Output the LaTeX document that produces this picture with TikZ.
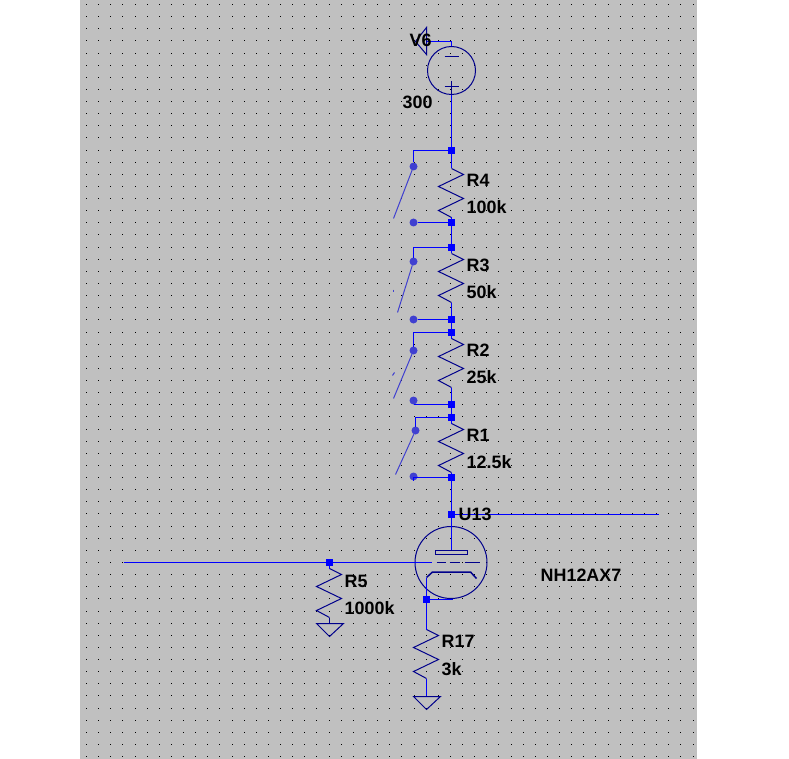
\documentclass[tikz,border=0pt]{standalone}
\usepackage{fontspec}
\setmainfont{Liberation Sans}
\definecolor{sheetgray}{RGB}{192,192,192}
\definecolor{wireblue}{RGB}{0,0,255}
\definecolor{symbolblue}{RGB}{0,0,139}
\definecolor{switchblue}{RGB}{64,64,208}
\tikzset{
  wire/.style={draw=wireblue,line width=1.6pt},
  symbol/.style={draw=symbolblue,line width=1pt},
  junction/.style={fill=wireblue,minimum size=7pt,inner sep=0pt,outer sep=0pt},
  contact/.style={circle,fill=switchblue,minimum size=8pt,inner sep=0pt,outer sep=0pt},
  lever/.style={draw=switchblue,line width=1pt},
  tag/.style={font=\bfseries\fontsize{17.9}{18}\selectfont,text=black,anchor=west,inner sep=0pt}
}
% one resistor: top pin at (#1,#2), #3 = name of the bottom coordinate
\newcommand{\zigzag}[3]{%
  \draw[symbol] (#1,#2) -- ++(12,-6) -- ++(-25,-12) -- ++(25,-12) -- ++(-25,-12) -- ++(13,-7) coordinate (#3);
}
\begin{document}
\begin{tikzpicture}[x=1pt,y=1pt]
  \useasboundingbox (0,0) rectangle (789,-759);
  \fill[sheetgray] (80,0) rectangle (697,-759);
  \foreach \i in {0,...,50}
    \foreach \j in {0,...,62}
      \fill[black] ({round(86+\i*12.13)},{-round(4+\j*12.13)}) rectangle ++(1.2,-1.2);

  \begin{scope}[shift={(0.5,-0.5)}]
  % source
  \node[circle,symbol,minimum size=48pt,inner sep=0pt] (v6) at (451,-70) {};
  \coordinate (flag) at (426,-41);
  \draw[wire] (v6.north) -- (451,-41) -- (flag);
  \draw[symbol] (426,-27) -- (426,-54) -- (415,-41) -- cycle;
  \draw[symbol] (444,-56) -- (458,-56);
  \draw[symbol] (444,-86) -- (458,-86);
  \draw[symbol] (451,-81) -- (451,-94);
  \node[tag] (v6name) at (409,-40) {V6};
  \node[tag] (v6value) at (402,-102) {300};

  % resistor chain
  \node[junction] (r4top) at (451,-150) {};
  \node[junction] (r4bot) at (451,-222) {};
  \node[junction] (r3top) at (451,-247) {};
  \node[junction] (r3bot) at (451,-319) {};
  \node[junction] (r2top) at (451,-332) {};
  \node[junction] (r2bot) at (451,-404) {};
  \node[junction] (r1top) at (451,-417) {};
  \node[junction] (r1bot) at (451,-477) {};
  \node[junction] (plate) at (451,-514) {};
  \draw[wire] (v6.south) -- (r4top);

  \coordinate (r4a) at (451,-168);
  \zigzag{451}{-168}{r4b}
  \draw[wire] (r4top) -- (r4a) (r4b) -- (r4bot) -- (r3top);
  \coordinate (r3a) at (451,-253);
  \zigzag{451}{-253}{r3b}
  \draw[wire] (r3top) -- (r3a) (r3b) -- (r3bot) -- (r2top);
  \coordinate (r2a) at (451,-338);
  \zigzag{451}{-338}{r2b}
  \draw[wire] (r2top) -- (r2a) (r2b) -- (r2bot) -- (r1top);
  \coordinate (r1a) at (451,-423);
  \zigzag{451}{-423}{r1b}
  \draw[wire] (r1top) -- (r1a) (r1b) -- (r1bot) -- (plate);

  \node[tag] (r4name) at (466,-180) {R4};
  \node[tag] (r4value) at (466,-207) {100k};
  \node[tag] (r3name) at (466,-265) {R3};
  \node[tag] (r3value) at (466,-292) {50k};
  \node[tag] (r2name) at (466,-350) {R2};
  \node[tag] (r2value) at (466,-377) {25k};
  \node[tag] (r1name) at (466,-435) {R1};
  \node[tag] (r1value) at (466,-462) {12.5k};

  % switches
  \node[contact] (s4a) at (413,-166) {};
  \node[contact] (s4b) at (413,-222) {};
  \coordinate (s4end) at (393,-218);
  \node[contact] (s3a) at (413,-261) {};
  \node[contact] (s3b) at (413,-319) {};
  \coordinate (s3end) at (397,-312);
  \node[contact] (s2a) at (413,-350) {};
  \node[contact] (s2b) at (413,-400) {};
  \coordinate (s2end) at (393,-398);
  \node[contact] (s1a) at (415,-430) {};
  \node[contact] (s1b) at (413,-476) {};
  \coordinate (s1end) at (395,-474);
  \foreach \s/\t in {4/r4,3/r3,2/r2,1/r1} {
    \draw[wire] (\t top) -| (s\s a);
    \draw[lever] (s\s a) -- (s\s end);
  }
  \draw[wire] (s4b) -- (r4bot);
  \draw[wire] (s3b) -- (r3bot);
  \draw[wire] (s2b) |- (r2bot);
  \draw[wire] (s1b) |- (r1bot);
  \draw[lever] (393,-289) -- (393,-291);
  \draw[lever] (392,-375) -- (394,-372);

  % tube
  \node[circle,symbol,minimum size=72pt,inner sep=0pt] (u13) at (450.5,-562) {};
  \node[draw=symbolblue,line width=1pt,minimum width=32pt,minimum height=4pt,inner sep=0pt] (anode) at (451,-552) {};
  \coordinate (gridin) at (431,-562);
  \coordinate (out) at (658,-514);
  \coordinate (in) at (123,-562);
  \node[junction] (gridnode) at (329,-562) {};
  \node[junction] (cathode) at (426,-599) {};
  \draw[wire] (plate) -- (out);
  \draw[wire] (plate) -- (anode.north);
  \draw[wire] (in) -- (gridnode) -- (gridin);
  \draw[symbol,line width=1.3pt] (436,-562) -- (445,-562) (449,-562) -- (459,-562) (464,-562) -- (479,-562);
  \draw[wire] (cathode) -- (426,-577);
  \draw[symbol,line width=1.5pt] (426,-577) -- (432,-571.5) -- (470,-571.5) -- (476,-578);
  \draw[wire] (cathode) -- (452,-599);
  \node[tag] (u13name) at (458,-514) {U13};
  \node[tag] (u13value) at (540,-575) {NH12AX7};

  % grid leak
  \coordinate (r5a) at (329,-568);
  \zigzag{329}{-568}{r5b}
  \draw[wire] (gridnode) -- (r5a);
  \draw[symbol] (r5b) -- (329,-623);
  \draw[symbol] (316,-623) -- (343,-623) -- (329,-636) -- cycle;
  \node[tag] (r5name) at (344,-581) {R5};
  \node[tag] (r5value) at (344,-608) {1000k};

  % cathode resistor
  \coordinate (r17a) at (426,-629);
  \zigzag{426}{-629}{r17b}
  \draw[wire] (cathode) -- (r17a) (r17b) -- (426,-696);
  \draw[symbol] (413,-696) -- (440,-696) -- (426,-709) -- cycle;
  \node[tag] (r17name) at (441,-641) {R17};
  \node[tag] (r17value) at (441,-669) {3k};
  \end{scope}
\end{tikzpicture}
\end{document}
